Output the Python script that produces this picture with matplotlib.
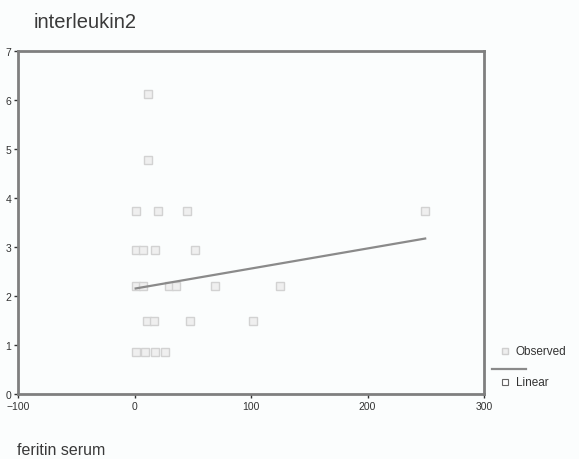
import matplotlib
matplotlib.use("Agg")
import matplotlib.pyplot as plt
from matplotlib.lines import Line2D
import numpy as np

# Data
ferritin = [12, 12, 1.5, 20.6, 45, 1.5, 7.5, 18, 52, 1, 7, 30, 36, 68.7, 124.5,
            11, 17, 48, 102, 1, 9, 18, 26, 249.5]
interleukin2 = [6.12, 4.77, 3.74, 3.74, 3.74, 2.93, 2.93, 2.93, 2.93,
                2.2, 2.2, 2.2, 2.2, 2.2, 2.2, 1.5, 1.5, 1.5, 1.5,
                0.85, 0.85, 0.85, 0.85, 3.74]
fit_intercept = 2.15
fit_slope = 0.0041
x_ticks = [-100, 0, 100, 200, 300]
y_ticks = [0, 1, 2, 3, 4, 5, 6, 7]
title = "interleukin2"
xlabel = "feritin serum"
legend_labels = ["Observed", "Linear"]

plt.rcParams['font.family'] = ['Liberation Sans', 'DejaVu Sans']
bg = '#fbfdfd'
fig = plt.figure(figsize=(5.79, 4.60), dpi=100, facecolor=bg)
ax = fig.add_axes([18/579, 65/460, 466/579, 343/460], facecolor=bg)

ax.plot(ferritin, interleukin2, linestyle='none', marker='s', markersize=5.5,
        markerfacecolor='#efefef', markeredgecolor='#d2d2d2', markeredgewidth=1.0)
xs = np.array([min(ferritin), max(ferritin)])
ax.plot(xs, fit_intercept + fit_slope * xs, color='#8a8a8a', linewidth=1.6)

ax.set_xlim(x_ticks[0], x_ticks[-1])
ax.set_ylim(y_ticks[0], y_ticks[-1])
ax.set_xticks(x_ticks)
ax.set_yticks(y_ticks)
ax.tick_params(axis='both', labelsize=7.5, colors='#333333', length=3, width=1,
               direction='out')
ax.tick_params(axis='x', pad=2)
ax.tick_params(axis='y', pad=2)
for s in ax.spines.values():
    s.set_color('#7f7f7f')
    s.set_linewidth(2)

fig.text(34/579, 1 - 22/460, title, fontsize=14.5, color='#3a3a3a', va='center', ha='left')
fig.text(17/579, 1 - 451/460, xlabel, fontsize=11.5, color='#3a3a3a', va='center', ha='left')

# Legend (SPSS style)
fig.add_artist(Line2D([505/579], [1 - 352/460], marker='s', markersize=4.5,
                      markerfacecolor='#eeeeee', markeredgecolor='#cfcfcf',
                      linestyle='none', transform=fig.transFigure))
fig.text(516/579, 1 - 352/460, legend_labels[0], fontsize=8.5, color='#333333',
         va='center', ha='left')
fig.add_artist(Line2D([492/579, 526/579], [1 - 370/460, 1 - 370/460],
                      color='#8a8a8a', linewidth=1.6, transform=fig.transFigure))
fig.add_artist(Line2D([505/579], [1 - 383/460], marker='s', markersize=4,
                      markerfacecolor='#ffffff', markeredgecolor='#666666',
                      markeredgewidth=0.8, linestyle='none', transform=fig.transFigure))
fig.text(516/579, 1 - 383/460, legend_labels[1], fontsize=8.5, color='#333333',
         va='center', ha='left')

fig.savefig("out.png", dpi=100, facecolor=bg)
